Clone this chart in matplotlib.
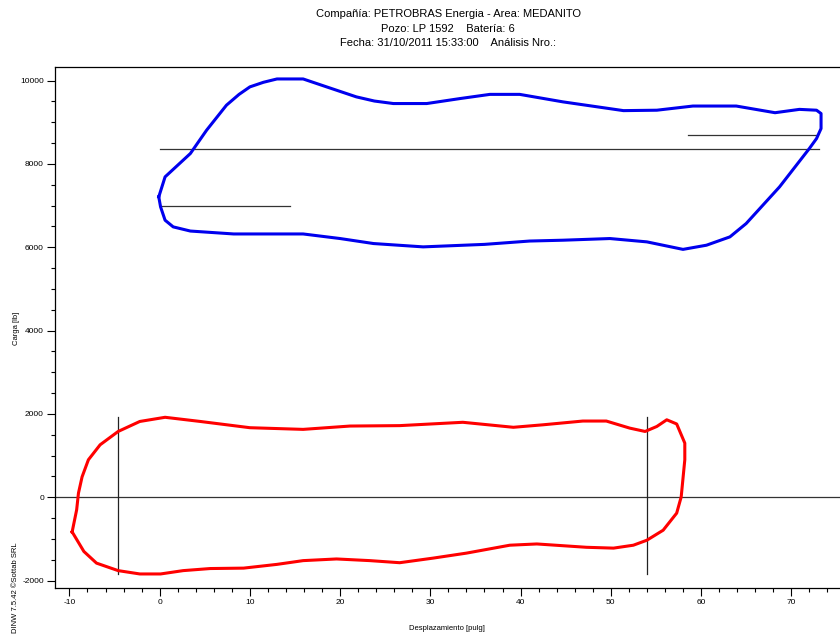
import matplotlib
matplotlib.use("Agg")
import matplotlib.pyplot as plt
from matplotlib.ticker import MultipleLocator


# ------------------------------------------------------
# Data read off the card
# ------------------------------------------------------

# surface card (blue)
surface_x = [-0.1, 0.6, 3.4, 5.2, 7.4, 8.8, 10.0, 11.5, 13.0, 15.9, 18.5,
             21.8, 23.8, 25.9, 29.6, 33.3, 36.6, 39.9, 44.7, 51.4, 55.1,
             59.1, 63.9, 68.2, 70.9, 72.8, 73.3, 73.3, 72.8, 72.0, 68.7,
             65.0, 63.2, 60.6, 58.0, 54.0, 49.9, 44.7, 41.0, 36.0, 29.2,
             23.7, 20.0, 15.9, 8.2, 3.4, 1.5, 0.6, 0.1, -0.1]
surface_y = [7210, 7690, 8250, 8810, 9410, 9670, 9850, 9960, 10040, 10040,
             9850, 9610, 9510, 9450, 9450, 9570, 9670, 9670, 9490, 9280,
             9290, 9390, 9390, 9230, 9310, 9290, 9210, 8850, 8610, 8370,
             7450, 6570, 6250, 6050, 5950, 6130, 6210, 6170, 6150, 6070,
             6010, 6090, 6210, 6320, 6320, 6390, 6490, 6650, 6970, 7210]

# downhole card (red)
pump_x = [-9.7, -9.2, -9.0, -8.6, -7.9, -6.6, -4.6, -2.2, 0.6, 4.5, 10.0,
          15.9, 21.1, 26.6, 33.6, 39.2, 42.5, 46.9, 49.5, 52.1, 53.8, 55.1,
          56.2, 57.3, 58.2, 58.2, 57.8, 57.3, 55.8, 54.0, 52.5, 50.3, 47.3,
          41.8, 38.8, 34.0, 30.3, 26.6, 23.3, 19.6, 15.9, 13.0, 9.3, 5.6,
          2.6, 0.1, -2.2, -4.6, -7.0, -8.4, -9.7]
pump_y = [-830, -300, 100, 490, 900, 1260, 1580, 1820, 1920, 1820, 1670,
          1630, 1710, 1720, 1800, 1680, 1740, 1830, 1830, 1660, 1580, 1700,
          1860, 1760, 1300, 900, 10, -380, -790, -1030, -1150, -1220, -1200,
          -1120, -1150, -1340, -1460, -1570, -1520, -1480, -1520, -1610,
          -1700, -1710, -1760, -1840, -1840, -1760, -1580, -1300, -830]

# reference lines: (x_start, x_end, y)
h_lines = [(0.0, 73.1, 8360), (0.0, 14.4, 7000), (58.6, 72.9, 8690)]
# reference lines: (x, y_start, y_end)
v_lines = [(-4.6, -1840, 1930), (54.0, -1840, 1930)]

title_lines = [
    "Compañía: PETROBRAS Energia - Area: MEDANITO",
    "Pozo: LP 1592    Batería: 6",
    "Fecha: 31/10/2011 15:33:00    Análisis Nro.:",
]

# ------------------------------------------------------
# Figure
# ------------------------------------------------------

plt.rcParams["font.family"] = ["Liberation Sans", "DejaVu Sans"]
plt.rcParams["axes.unicode_minus"] = False

fig = plt.figure(figsize=(8.4, 6.39), dpi=100)
ax = fig.add_axes([55 / 840, 51 / 639, 785 / 840, 521 / 639])

ax.axhline(0, color="#333333", linewidth=0.9)

for x0, x1, y in h_lines:
    ax.plot([x0, x1], [y, y], color="#333333", linewidth=0.9)

for x, y0, y1 in v_lines:
    ax.plot([x, x], [y0, y1], color="#222222", linewidth=0.9)

ax.plot(surface_x, surface_y, color="#0000ee", linewidth=2.2,
        solid_joinstyle="round")
ax.plot(pump_x, pump_y, color="#ff0000", linewidth=2.2,
        solid_joinstyle="round")

# ------------------------------------------------------
# Axes
# ------------------------------------------------------

ax.set_xlim(-11.6, 75.4)
ax.set_ylim(-2177, 10327)

ax.xaxis.set_major_locator(MultipleLocator(10))
ax.xaxis.set_minor_locator(MultipleLocator(2))
ax.yaxis.set_major_locator(MultipleLocator(2000))
ax.yaxis.set_minor_locator(MultipleLocator(500))

ax.tick_params(which="major", direction="out", length=6, width=0.8,
               labelsize=6, pad=2)
ax.tick_params(which="minor", direction="out", length=3, width=0.8)

ax.spines["right"].set_visible(False)
for side in ["left", "bottom", "top"]:
    ax.spines[side].set_linewidth(0.9)

# ------------------------------------------------------
# Labels
# ------------------------------------------------------

fig.text(448 / 840, 1 - 14 / 639, title_lines[0], ha="center", va="center",
         fontsize=8)
fig.text(448 / 840, 1 - 28.5 / 639, title_lines[1], ha="center", va="center",
         fontsize=8)
fig.text(448 / 840, 1 - 43 / 639, title_lines[2], ha="center", va="center",
         fontsize=8)

fig.text(447 / 840, 1 - 629 / 639, "Desplazamiento [pulg]", ha="center",
         va="center", fontsize=5.5)
fig.text(17 / 840, 1 - 328 / 639, "Carga [lb]", ha="center", va="center",
         rotation=90, fontsize=5.5)
fig.text(16 / 840, 1 - 588 / 639, "DINW 7.5.42 ©Sottab SRL", ha="center",
         va="center", rotation=90, fontsize=5.5)

fig.savefig("out.png", dpi=100)
